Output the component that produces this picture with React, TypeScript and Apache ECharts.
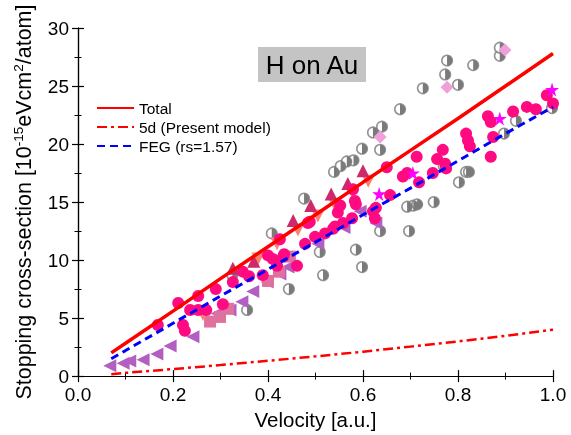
import React, { useEffect, useRef } from "react";
import * as echarts from "echarts";

const FONT = "Liberation Sans, Arial, sans-serif";

// Theory curves
const lineV = [0.07, 0.1, 0.2, 0.3, 0.4, 0.5, 0.6, 0.7, 0.8, 0.9, 1.0];
const totalY = [2.0, 2.83, 5.6, 8.4, 11.15, 13.9, 16.7, 19.45, 22.2, 25.0, 27.8];
const d5Y = [0.15, 0.28, 0.6, 0.95, 1.32, 1.7, 2.1, 2.54, 2.99, 3.47, 4.0];
const fegY = [1.5, 2.2, 4.55, 6.9, 9.2, 11.55, 13.9, 16.2, 18.55, 20.9, 23.2];

// Experimental data [velocity, stopping]
const grayPts = [
  [0.325, 8.7], [0.356, 5.7], [0.408, 12.3], [0.444, 7.5], [0.476, 15.3], [0.509, 10.7],
  [0.516, 8.7], [0.539, 17.6], [0.553, 18.1], [0.566, 18.5], [0.58, 18.6], [0.585, 10.9],
  [0.598, 9.4], [0.598, 19.6], [0.621, 21.0], [0.636, 19.5], [0.64, 21.5], [0.636, 12.5],
  [0.678, 23.0], [0.697, 12.5], [0.693, 14.6], [0.706, 14.7], [0.714, 14.8], [0.726, 24.8],
  [0.749, 15.0], [0.77, 18.1], [0.773, 26.0], [0.777, 27.2], [0.8, 25.1], [0.802, 16.7],
  [0.817, 17.6], [0.823, 17.6], [0.832, 26.8], [0.888, 27.6], [0.888, 28.3], [0.897, 20.9],
  [0.922, 22.0], [0.998, 23.1],
];
const pinkPts = [
  [0.168, 4.4], [0.211, 6.3], [0.221, 4.4], [0.225, 3.9], [0.236, 5.7], [0.253, 6.9],
  [0.253, 5.7], [0.27, 5.7], [0.29, 7.5], [0.305, 6.2], [0.326, 8.1], [0.347, 9.0],
  [0.36, 8.6], [0.389, 8.7], [0.4, 10.4], [0.41, 10.1], [0.419, 9.5], [0.425, 11.8],
  [0.432, 10.3], [0.434, 10.5], [0.461, 9.5], [0.478, 11.4], [0.484, 13.2], [0.488, 13.3],
  [0.499, 12.0], [0.52, 12.3], [0.537, 12.7], [0.541, 12.9], [0.547, 14.1], [0.552, 14.7],
  [0.558, 13.2], [0.577, 13.6], [0.579, 16.1], [0.583, 15.1], [0.585, 14.8], [0.621, 14.2],
  [0.625, 13.6], [0.627, 14.5], [0.65, 18.0], [0.657, 15.6], [0.684, 17.2], [0.693, 17.5],
  [0.713, 18.9], [0.718, 16.7], [0.747, 17.5], [0.756, 18.7], [0.768, 19.5], [0.773, 18.3],
  [0.775, 17.9], [0.817, 20.9], [0.821, 20.3], [0.825, 19.8], [0.863, 22.4], [0.869, 21.9],
  [0.869, 18.9], [0.874, 20.6], [0.916, 22.8], [0.945, 23.2], [0.964, 23.0], [0.987, 24.2],
  [1.0, 23.5],
];
const upTriPts = [[0.326, 9.3], [0.37, 9.9], [0.453, 13.4], [0.49, 14.7], [0.533, 15.7], [0.568, 16.6], [0.6, 17.7]];
const downTriPts = [[0.263, 5.3], [0.379, 10.1], [0.419, 11.4], [0.463, 12.6], [0.505, 13.8], [0.54, 14.8], [0.577, 15.9], [0.611, 16.8]];
const leftTriPts = [
  [0.067, 0.9], [0.095, 1.1], [0.109, 1.3], [0.137, 1.4], [0.166, 1.9], [0.194, 2.6],
  [0.242, 3.4], [0.293, 5.4], [0.32, 5.7], [0.345, 6.4], [0.368, 7.3], [0.398, 8.1],
  [0.425, 8.8], [0.442, 9.4], [0.505, 11.4], [0.56, 12.8], [0.594, 14.2], [0.627, 13.2],
];
const squarePts = [[0.278, 4.7], [0.299, 5.1], [0.316, 5.8], [0.4, 8.2], [0.423, 9.0], [0.446, 10.3]];
const diamondPts = [[0.636, 20.6], [0.777, 24.9], [0.899, 28.1]];
const starPts = [[0.634, 15.7], [0.705, 17.5], [0.888, 22.2], [0.998, 24.7]];

const STAR = "path://M50,0 L61,35 L98,35 L68,57 L79,91 L50,70 L21,91 L32,57 L2,35 L39,35 Z";
const HALF = "path://M0,0 A10,10 0 0,1 0,20 Z";

export default function App() {
  const ref = useRef<HTMLDivElement>(null);
  useEffect(() => {
    const chart = echarts.init(ref.current!, null, { renderer: "svg" });
    const axisLine = { show: true, lineStyle: { color: "#000", width: 1.2 } };
    const tick = { show: true, inside: true, length: 6, lineStyle: { color: "#000", width: 1.2 } };
    const minor = { show: true, splitNumber: 2, length: 3.5, lineStyle: { color: "#000", width: 1 } };
    const scatter = (data: number[][], symbol: string, size: any, color: string, extra: any = {}) => ({
      type: "scatter",
      data,
      symbol,
      symbolSize: size,
      itemStyle: { color, opacity: 1 },
      silent: true,
      ...extra,
    });
    const line = (name: string, ys: number[], color: string, width: number, type: any) => ({
      type: "line",
      name,
      data: lineV.map((v, i) => [v, ys[i]]),
      symbol: "none",
      showSymbol: false,
      lineStyle: { color, width, type },
      itemStyle: { color },
      z: 5,
    });
    chart.setOption({
      animation: false,
      textStyle: { fontFamily: FONT },
      grid: { left: 78, right: 18, top: 28, bottom: 57 },
      legend: {
        orient: "vertical",
        left: 96,
        top: 100,
        padding: 0,
        itemWidth: 37,
        itemHeight: 14,
        itemGap: 3,
        itemStyle: { color: "transparent", borderWidth: 0, opacity: 0 },
        textStyle: { fontSize: 15.5, color: "#000", fontFamily: FONT },
        data: ["Total", "5d (Present model)", "FEG (rs=1.57)"],
      },
      xAxis: [
        {
          type: "value", min: 0, max: 1, interval: 0.2,
          axisLine, axisTick: tick, minorTick: minor, splitLine: { show: false },
          axisLabel: { fontSize: 19, color: "#000", margin: 9, fontFamily: FONT, formatter: (v: number) => v.toFixed(1) },
          name: "Velocity [a.u.]", nameLocation: "middle", nameGap: 32,
          nameTextStyle: { fontSize: 20.5, color: "#000", fontFamily: FONT },
        },
        {
          type: "value", min: 0, max: 1, interval: 0.2, position: "top",
          axisLine, axisTick: tick, minorTick: minor, splitLine: { show: false },
          axisLabel: { show: false },
        },
      ],
      yAxis: [
        {
          type: "value", min: 0, max: 30, interval: 5,
          axisLine, axisTick: tick, minorTick: minor, splitLine: { show: false },
          axisLabel: { fontSize: 19, color: "#000", margin: 9, fontFamily: FONT },
          name: "Stopping cross-section [10{sup|-15}eVcm{sup|2}/atom]",
          nameLocation: "middle", nameGap: 36, nameRotate: 90,
          nameTextStyle: {
            fontSize: 21.5, color: "#000", fontFamily: FONT, lineHeight: 25,
            rich: { sup: { fontSize: 13.5, lineHeight: 14, verticalAlign: "top", color: "#000", fontFamily: FONT } },
          },
        },
        {
          type: "value", min: 0, max: 30, interval: 5, position: "right",
          axisLine, axisTick: tick, minorTick: minor, splitLine: { show: false },
          axisLabel: { show: false },
        },
      ],
      graphic: [
        {
          type: "rect", left: 258, top: 47, shape: { width: 108, height: 35 },
          style: { fill: "#c4c4c4" }, z: 10,
        },
        {
          type: "text", x: 312, y: 65,
          style: { text: "H on Au", fontSize: 26, fill: "#000", fontFamily: FONT, align: "center", verticalAlign: "middle" },
          z: 11,
        },
      ],
      series: [
        scatter(grayPts, "circle", 10.5, "#fff", { itemStyle: { color: "#fff", borderColor: "#7a7a7a", borderWidth: 1.6 } }),
        scatter(grayPts, HALF, [5.25, 10.5], "#7a7a7a", { symbolOffset: [2.6, 0] }),
        scatter(leftTriPts, "triangle", 13, "#b35fc2", { symbolRotate: 90 }),
        scatter(squarePts, "rect", 12, "#e0709e"),
        scatter(downTriPts, "triangle", 13, "#ff8070", { symbolRotate: 180 }),
        scatter(upTriPts, "triangle", 13, "#cc2a6a"),
        scatter(pinkPts, "circle", 12, "#ff0a80"),
        scatter(diamondPts, "diamond", 13, "#f0a0d8"),
        scatter(starPts, STAR, 14, "#ff00ff"),
        line("Total", totalY, "#ff0000", 3.5, "solid"),
        line("5d (Present model)", d5Y, "#ff0000", 2.5, [10, 4, 3, 4]),
        line("FEG (rs=1.57)", fegY, "#0000ff", 3, [8, 5]),
      ],
    });
    return () => chart.dispose();
  }, []);
  return <div ref={ref} style={{ position: "fixed", left: 0, top: 0, width: 571, height: 435 }} />;
}
